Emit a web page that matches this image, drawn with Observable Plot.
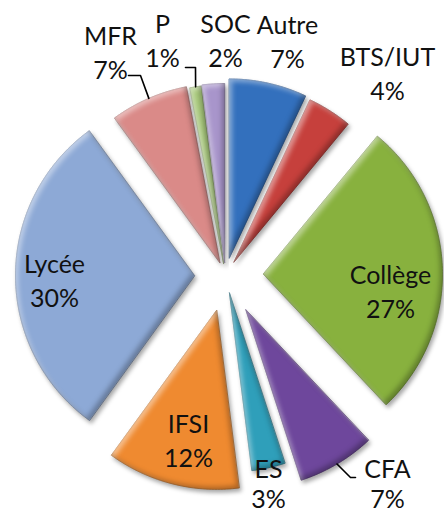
<!DOCTYPE html>
<html>
<head>
<meta charset="utf-8">
<script src="https://cdn.jsdelivr.net/npm/d3@7"></script>
<script src="https://cdn.jsdelivr.net/npm/@observablehq/plot@0.6"></script>
<style>
  html, body { margin: 0; padding: 0; background: #fff; }
  #chart svg { display: block; }
</style>
</head>
<body>
<div id="chart"></div>
<script>
// ---- Data ----
const categories = ["Autre", "BTS/IUT", "Collège", "CFA", "ES", "IFSI", "Lycée", "MFR", "P", "SOC"];
const percents   = [7, 4, 27, 7, 3, 12, 30, 7, 1, 2];

// ---- Styles ----
const sliceColors = {
  "Autre": "#3370BD", "BTS/IUT": "#C6403C", "Collège": "#88B13E", "CFA": "#6E479C",
  "ES": "#2F9FBA", "IFSI": "#EF8A30", "Lycée": "#8DA9D6", "MFR": "#DA8A88",
  "P": "#A8C97B", "SOC": "#A895CB"
};

// ---- Layout (pixel frame: pie centre, radius) ----
const W = 444, H = 513, CX = 225, CY = 275, R = 179;
const explodePx = {"Autre": 18, "BTS/IUT": 16, "Collège": 38, "CFA": 40, "ES": 18,
                   "IFSI": 36, "Lycée": 31, "MFR": 14, "P": 12, "SOC": 13};
const FS = 25, GAP = 34;
// label anchor: [centre x, first-line baseline, second-line baseline (optional)] in frame pixels
const labelAt = {"Autre": [287, 33], "BTS/IUT": [387, 65], "Collège": [390, 283], "CFA": [387, 477, 507],
                 "ES": [268, 477, 507], "IFSI": [188, 432], "Lycée": [54, 272], "MFR": [110, 44],
                 "P": [162, 32], "SOC": [225, 32]};
const leaderAt = {"MFR": [[128, 75], [140, 75]], "P": [[185, 67], [195, 67]], "CFA": [[355, 477], [350, 477]]};

const toUnit = ([px, py]) => [(px - CX) / R, (CY - py) / R];

// ---- Geometry from data ----
const arcs = d3.pie().sort(null).value(d => d)(percents);
const slices = arcs.map((a, i) => {
  const name = categories[i];
  const mid = (a.startAngle + a.endAngle) / 2;
  const e = explodePx[name] / R;
  const ox = e * Math.sin(mid), oy = e * Math.cos(mid);
  const pts = [[ox, oy]];
  const n = Math.max(4, Math.ceil((a.endAngle - a.startAngle) / (Math.PI / 180)));
  for (let k = 0; k <= n; k++) {
    const t = a.startAngle + (a.endAngle - a.startAngle) * k / n;
    pts.push([ox + Math.sin(t), oy + Math.cos(t)]);
  }
  pts.push([ox, oy]);
  return {
    type: "Feature",
    properties: {name, value: percents[i], color: sliceColors[name],
                 stroke: d3.color(sliceColors[name]).darker(0.7).formatHex(),
                 outer: [ox + Math.sin(mid), oy + Math.cos(mid)]},
    geometry: {type: "Polygon", coordinates: [pts.slice().reverse()]}
  };
});

const labelLines = categories.flatMap((c, i) => {
  const [px, b1, b2 = b1 + GAP] = labelAt[c];
  const [x1, y1] = toUnit([px, b1]);
  const [x2, y2] = toUnit([px, b2]);
  return [{x: x1, y: y1, text: c}, {x: x2, y: y2, text: `${percents[i]}%`}];
});

const leaders = Object.entries(leaderAt).map(([c, pts]) => {
  const s = slices.find(f => f.properties.name === c);
  return {type: "LineString", coordinates: [...pts.map(toUnit), s.properties.outer]};
});

const domain = {type: "MultiPoint", coordinates: [toUnit([0, H]), toUnit([W, 0])]};

const plot = Plot.plot({
  width: W, height: H, margin: 0,
  projection: {type: "reflect-y", domain, inset: 0},
  color: {type: "identity"},
  style: {background: "#fff"},
  marks: [
    Plot.geo(slices, {fill: d => d.properties.color, stroke: d => d.properties.stroke, strokeWidth: 0.8}),
    Plot.geo(leaders, {stroke: "#000", strokeWidth: 1.6, fill: "none"}),
    Plot.text(labelLines, {x: "x", y: "y", text: "text", fontSize: FS,
      fontFamily: "Lato, 'Open Sans', sans-serif", fill: "#111", textAnchor: "middle", lineAnchor: "bottom"})
  ]
});

// bevel + shadow filter
const ns = "http://www.w3.org/2000/svg";
const defs = document.createElementNS(ns, "defs");
defs.innerHTML = `
<filter id="bevel" x="-10%" y="-10%" width="125%" height="125%" color-interpolation-filters="sRGB">
  <feGaussianBlur in="SourceAlpha" stdDeviation="2.5" result="b"/>
  <feOffset in="b" dx="3" dy="3" result="bo1"/>
  <feComposite in="SourceAlpha" in2="bo1" operator="out" result="hi"/>
  <feOffset in="b" dx="-3" dy="-3" result="bo2"/>
  <feComposite in="SourceAlpha" in2="bo2" operator="out" result="sh"/>
  <feFlood flood-color="#fff" flood-opacity="0.45"/>
  <feComposite in2="hi" operator="in" result="hiC"/>
  <feFlood flood-color="#000" flood-opacity="0.28"/>
  <feComposite in2="sh" operator="in" result="shC"/>
  <feGaussianBlur in="SourceAlpha" stdDeviation="2" result="ds"/>
  <feOffset in="ds" dx="2" dy="3" result="dso"/>
  <feFlood flood-color="#000" flood-opacity="0.35"/>
  <feComposite in2="dso" operator="in" result="shadow"/>
  <feMerge>
    <feMergeNode in="shadow"/>
    <feMergeNode in="SourceGraphic"/>
    <feMergeNode in="hiC"/>
    <feMergeNode in="shC"/>
  </feMerge>
</filter>`;
plot.insertBefore(defs, plot.firstChild);
const geoGroup = plot.querySelector('g[aria-label="geo"]');
if (geoGroup) geoGroup.querySelectorAll("path").forEach(p => p.setAttribute("filter", "url(#bevel)"));

document.getElementById("chart").appendChild(plot);
</script>
</body>
</html>
